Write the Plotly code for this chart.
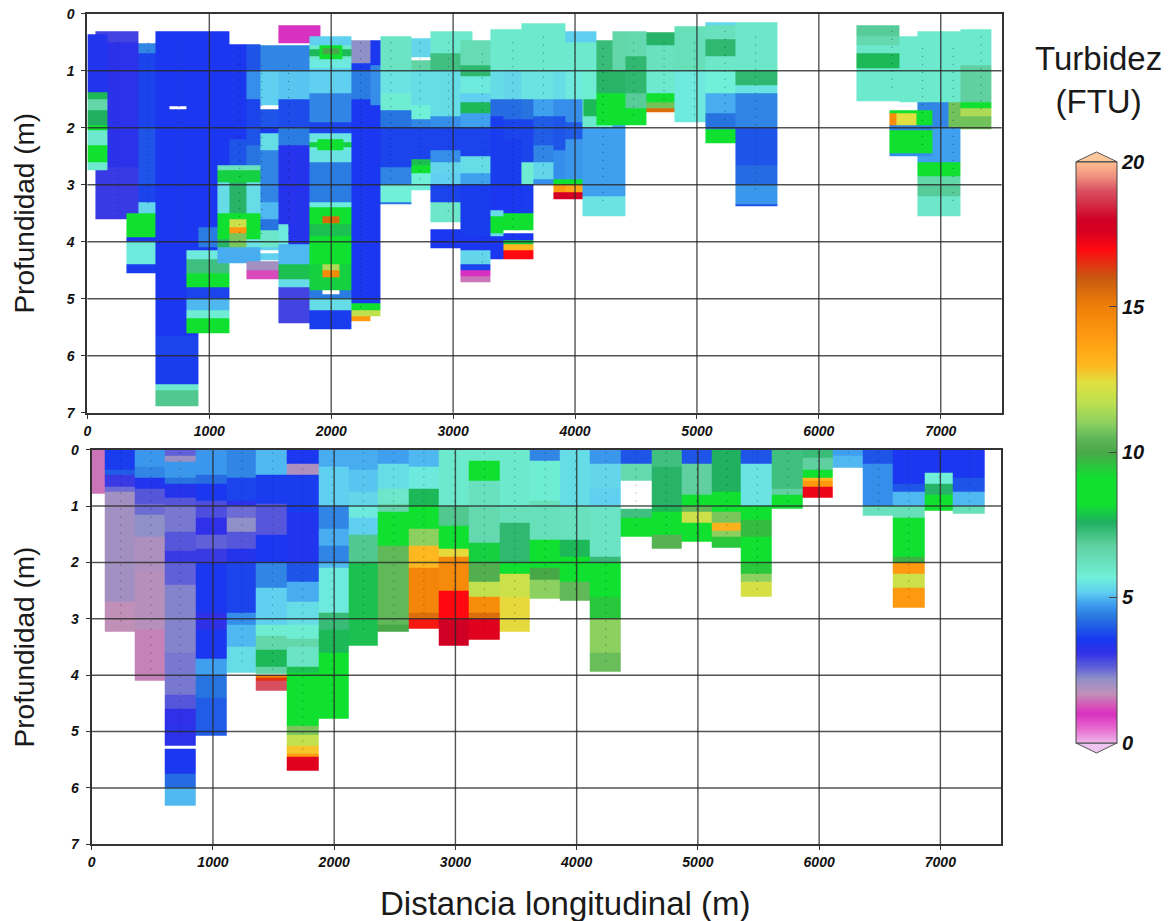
import numpy as np
import plotly.graph_objects as go

W = None  # hole in the section (no data)

color_stops = [
    (0, "#ECB8EC"), (0.45, "#E870D0"), (1.0, "#D830C0"), (1.25, "#D850B8"), (1.7, "#C090B8"),
    (2.2, "#9090C8"), (2.6, "#6060D8"), (3.1, "#3030E8"), (3.55, "#1838F0"), (4.35, "#2878E0"),
    (4.8, "#40A0F0"), (5.2, "#60D0F0"), (5.7, "#70F0D8"), (6.8, "#60D0A0"), (7.6, "#20B060"),
    (8.2, "#10E030"), (9.1, "#10E030"), (10, "#48A848"), (10.5, "#60B858"), (11, "#8CD060"),
    (11.7, "#BCE050"), (12.4, "#E0E040"), (13, "#FFB820"), (14, "#FF9A10"), (15, "#F08008"),
    (16, "#C85A10"), (17, "#FF0810"), (17.6, "#D80020"), (18, "#D00025"), (19, "#D85060"),
    (19.5, "#F09080"), (20, "#FFC090"),
]

x_tick_values = [0, 1000, 2000, 3000, 4000, 5000, 6000, 7000]
depth_tick_values = [0, 1, 2, 3, 4, 5, 6, 7]
scale_tick_values = [0, 5, 10, 15, 20]

# Each entry: x from, x to, depth edges, turbidity per depth band. Later entries overlay earlier.
top_sections = [
    (65, 418, [.31, .5, 2.7, 3.6], [2.9, 3.2, 3.0]),
    (0, 167, [.36, 1.37, 1.5, 1.7, 1.95, 2.05, 2.3, 2.6, 2.75], [3.4, 7.7, 6.6, 7.6, 8.7, 5.9, 8.5, 5.9]),
    (418, 555, [.52, .7, 2.0, 3.0, 3.3, 3.9], [4.5, 3.7, 3.9, 3.7, 3.5]),
    (320, 555, [3.5, 3.93, 4.0, 4.4, 4.55], [8.7, 3.5, 5.6, 3.6]),
    (418, 665, [3.3, 3.5], [5.3]),
    (555, 665, [3.5, 3.9, 4.4], [5.2, 4.8]),
    (665, 910, [.3, 5.65, 6.0, 6.5], [3.5, 3.7, 3.6]),
    (555, 665, [.3, 3.3, 4.4, 5.65, 6.0, 6.5], [3.5, 3.5, 3.5, 3.7, 3.6]),
    (555, 910, [6.5, 6.6, 6.88], [5.9, 7.0]),
    (673, 815, [1.62, 1.67], [W]),
    (910, 1165, [.3, 3.75, 4.1, 4.15], [3.5, 4.4, 3.5]),
    (815, 1165, [4.15, 4.3, 4.55, 4.8, 5.0, 5.2, 5.35, 5.6], [5.6, 7.2, 8.7, 3.7, 5.0, 5.8, 8.7]),
    (1165, 1307, [.54, 2.2, 2.65], [3.5, 3.9]),
    (1307, 1417, [.54, 1.0, 1.5, 2.0, 2.3, 2.65], [3.9, 4.6, 3.7, 3.9, 4.3]),
    (1070, 1417, [2.65, 2.75, 2.95, 3.5, 4.1, 4.38], [6.2, 8.0, 5.4, 5.5, 4.9]),
    (1165, 1307, [2.95, 3.5, 3.6, 3.75, 3.85, 4.1], [7.5, 9.0, 12.0, 14.0, 10.8]),
    (1070, 1165, [3.5, 3.65, 3.95, 4.1], [8.5, 8.7, 7.5]),
    (1307, 1417, [3.5, 3.95], [8.7]),
    (1417, 1567, [.55, 1.0, 1.6, 1.68, 2.0, 2.1, 2.4, 3.3, 3.6, 3.8, 4.1, 4.15, 4.2, 4.33],
     [4.5, 5.2, W, 3.9, 3.6, 5.4, 4.5, 5.0, 4.3, 6.0, 5.2, W, 5.2]),
    (1307, 1567, [4.35, 4.5, 4.66], [2.0, 1.2]),
    (1567, 1822, [.2, .52, .55, 1.0, 1.5, 2.0, 2.3, 3.9, 4.05, 4.4, 4.65, 4.8, 5.43],
     [1.0, W, 4.5, 5.1, 3.8, 4.4, 3.3, 3.3, 5.0, 7.8, 5.4, 2.9]),
    (1567, 1650, [3.7, 4.05], [5.6]),
    (1822, 1915, [.2, .4], [1.0]),
    (1822, 2169, [.4, .55, .8, .95, 1.4, 1.9, 2.1, 2.2, 2.4, 2.6, 3.3, 3.4, 3.7, 3.9, 4.2, 4.4, 4.85, 5.0, 5.2, 5.53],
     [5.2, 8.4, 5.6, 5.2, 4.5, 3.7, 5.5, 8.4, 5.5, 4.4, 5.6, 8.3, 7.8, 8.5, 8.4, 8.0, 4.4, 5.4, 3.6]),
    (1822, 1900, [.55, .62, .74, .8], [5.9, 7.7, 5.9]),
    (2090, 2169, [.55, .62, .74, .8], [5.9, 7.7, 5.9]),
    (1822, 1890, [2.2, 2.26, 2.34, 2.4], [5.6, 8.0, 5.6]),
    (2100, 2169, [2.2, 2.26, 2.34, 2.4], [5.6, 8.0, 5.6]),
    (1925, 2070, [.6, .72], [10]),
    (1925, 2070, [3.55, 3.68], [15.6]),
    (1925, 2070, [4.4, 4.5, 4.62], [11.5, 14.6]),
    (1925, 2070, [4.85, 4.92], [W]),
    (2169, 2320, [.46, .87, 1.0, 1.5, 5.08, 5.2, 5.3, 5.4], [2.2, 3.6, 4.4, 3.5, 8.4, 11.8, 14.0]),
    (2320, 2407, [.46, .9, 1.0, 1.6, 5.08, 5.2, 5.3], [3.5, 4.5, 4.6, 3.5, 8.4, 11.8]),
    (2407, 2661, [.4, 1.0, 1.4, 1.7, 2.0, 2.7, 3.0, 3.3, 3.35], [6.1, 5.5, 5.8, 4.3, 3.7, 4.5, 5.7, 4.3]),
    (2661, 2812, [.43, .76, .82, 1.0, 1.6, 1.85, 2.0, 2.55, 2.65, 2.8, 3.1],
     [5.3, W, 6.7, 5.4, 5.7, 4.5, 3.7, 7.8, 8.2, 5.7]),
    (2812, 3063, [.3, .7, 1.0, 1.8, 2.0, 2.4, 2.6, 2.8, 3.0, 3.3, 3.65, 3.78, 4.12],
     [5.9, 7.2, 5.4, 4.6, 3.7, 4.6, 5.3, 5.2, 3.7, 6.0, W, 3.5]),
    (3063, 3309, [.47, .9, 1.1, 1.4, 1.55, 1.75, 2.0, 2.5, 2.8, 3.0, 3.9, 4.15, 4.4, 4.5, 4.6, 4.72],
     [6.4, 7.4, 5.6, 5.2, 7.7, 4.8, 3.7, 5.4, 4.8, 3.6, 3.5, 5.3, 3.7, 1.0, 1.5]),
    (3063, 3159, [.3, .47], [5.9]),
    (3309, 3413, [.27, 1.0, 1.5, 1.8, 2.6, 3.0, 3.45, 3.9, 4.3], [5.9, 5.4, 4.2, 3.6, 3.6, 3.5, 5.4, 3.5]),
    (3309, 3413, [3.55, 3.85], [8.5]),
    (3413, 3564, [.27, 1.0, 1.5, 1.85, 2.2, 2.6, 3.0, 3.5, 3.8, 3.85, 3.97, 4.05, 4.15, 4.3],
     [5.9, 5.3, 4.2, 3.7, 3.6, 3.6, 3.5, 8.6, W, 3.5, 8.0, 13, 17]),
    (3564, 3660, [.17, 1.0, 1.5, 1.85, 2.6, 3.0, 3.5, 3.8, 3.85, 3.97, 4.05, 4.15, 4.3],
     [5.9, 5.5, 4.3, 3.7, 5.8, 3.6, 8.6, W, 3.5, 8.0, 13, 17]),
    (3660, 3822, [.17, 1.0, 1.5, 1.8, 2.3, 2.6, 2.9, 3.0], [5.9, 5.5, 4.8, 4.0, 4.5, 5.3, 4.6]),
    (3822, 3918, [.17, 1.0, 1.5, 1.8, 2.4, 2.9, 3.0, 3.13, 3.25], [5.9, 5.4, 4.6, 3.9, 4.6, 8.7, 14, 17.8]),
    (3918, 4060, [.3, .5, 1.0, 1.5, 1.9, 2.2, 2.9, 3.0, 3.13, 3.25], [5.2, 5.9, 5.6, 4.6, 4.0, 4.7, 8.7, 13.5, 17.8]),
    (4060, 4172, [.3, .5, 1.0, 1.5, 2.0, 3.2, 3.55], [5.2, 5.9, 5.8, 5.9, 4.8, 5.5]),
    (4069, 4172, [1.5, 1.8], [7.7]),
    (4172, 4309, [.47, 1.0, 1.4, 1.95, 2.0, 3.2, 3.55], [7.3, 7.5, 8.7, 5.7, 4.8, 5.5]),
    (4309, 4410, [.3, 1.0, 1.4, 1.95, 3.2, 3.55], [6.6, 7.5, 8.7, 4.8, 5.5]),
    (4410, 4588, [.3, .75, 1.4, 1.65, 1.95], [6.5, 7.4, 6.9, 8.7]),
    (4588, 4812, [.32, .55, 1.0, 1.4, 1.55, 1.65, 1.73], [7.5, 6.2, 5.9, 8.5, 10.7, 15.5]),
    (4812, 5067, [.22, 1.0, 1.9], [6.3, 5.6]),
    (5067, 5313, [.15, .2, .45, .75, 1.0, 1.4, 1.75, 2.03, 2.27], [5.3, 6.2, 7.4, 6.0, 5.7, 4.9, 4.3, 8.7]),
    (5313, 5660, [.15, 1.0, 1.25, 1.4, 2.0, 2.65, 3.0, 3.35, 3.37], [6.0, 7.4, 5.5, 4.5, 3.9, 4.2, 4.7, 3.9]),
    (6311, 6661, [.2, .4, .55, .7, .95, 1.53], [6.9, 6.5, 6.0, 7.7, 5.9]),
    (6661, 6809, [.4, 1.55], [5.9]),
    (6809, 7165, [.3, .8, 1.55, 2.0, 2.6, 2.85, 3.0, 3.2, 3.55], [5.9, 5.9, 4.5, 4.8, 8.4, 6.6, 6.9, 6.0]),
    (6575, 6930, [1.7, 1.75, 1.95, 2.05, 2.45, 2.5], [8.5, 8.7, 4.5, 8.7, 4.6]),
    (6575, 6640, [1.75, 1.95], [14.5]),
    (6640, 6800, [1.75, 1.95], [12.4]),
    (7063, 7165, [1.55, 2.0], [10.7]),
    (7165, 7419, [.27, .9, 1.55, 1.65, 1.8, 2.03], [5.9, 6.8, 8.5, 11.5, 10.7]),
]

bottom_sections = [
    (0, 110, [0, .78], [1.5]),
    (110, 357, [0, .35, .45, .65, .75, 2.7, 3.22], [3.6, 4.0, 3.0, 2.5, 2.0, 1.7]),
    (357, 605, [0, .3, .5, .7, .95, 1.15, 1.55, 2.15, 3.2, 4.1], [4.7, 4.5, 3.4, 2.7, 2.5, 2.2, 1.9, 1.8, 1.6]),
    (605, 860, [0, .1, .22, .5, .6, .85, 1.0, 1.45, 1.8, 2.0, 2.4, 3.6, 4.35, 4.6, 4.85, 5.25, 5.3, 5.75, 6.0, 6.32],
     [2.6, 2.1, 4.7, 4.3, 3.3, 2.7, 2.4, 2.7, 3.0, 2.6, 2.3, 2.4, 2.7, 3.1, 3.2, W, 3.5, 4.2, 5.0]),
    (860, 1113, [0, .45, .6, .9, 1.2, 1.5, 1.75, 2.0, 2.9, 3.2, 3.7, 4.0, 4.4, 5.08],
     [4.7, 4.2, 3.5, 2.8, 3.1, 2.6, 3.0, 3.5, 3.1, 3.5, 4.8, 4.3, 4.0]),
    (1113, 1352, [0, .5, .9, 1.0, 1.2, 1.45, 1.75, 2.0, 2.9, 3.1, 3.5, 3.95],
     [4.5, 3.7, 3.2, 2.5, 2.2, 2.7, 3.3, 3.7, 4.6, 5.0, 5.4]),
    (1352, 1607, [0, .45, .95, 1.5, 2.0, 2.45, 3.1, 3.3, 3.55, 3.85, 3.98, 4.0, 4.05, 4.1, 4.28],
     [5.0, 3.6, 2.7, 3.5, 4.5, 5.2, 5.8, 6.6, 7.7, 6.7, W, 15, 16.5, 19]),
    (1607, 1869, [0, .25, .45, 1.1, 2.0, 2.35, 2.7, 3.1, 3.35, 3.5, 3.85, 3.95, 4.9, 5.05, 5.25, 5.4, 5.45, 5.7],
     [3.5, 1.9, 3.6, 3.4, 3.9, 4.9, 5.4, 5.8, 6.6, 6.1, 7.8, 8.7, 10.8, 11.8, 12.8, 14, 17.5]),
    (1869, 2116, [0, .3, 1.0, 1.4, 1.7, 2.0, 2.1, 2.9, 3.2, 3.6, 4.0, 4.77],
     [4.9, 5.2, 4.5, 4.9, 4.5, 5.0, 5.6, 7.3, 7.7, 8.8, 8.5]),
    (2116, 2363, [0, .35, .75, 1.0, 1.2, 1.5, 2.0, 3.47], [4.9, 5.1, 5.3, 5.6, 5.2, 7.0, 7.8]),
    (2363, 2616, [0, .25, .7, .95, 1.1, 1.7, 3.1, 3.23], [4.8, 5.4, 6.0, 6.5, 8.7, 10.5, 10.0]),
    (2616, 2858, [0, .3, .7, 1.0, 1.4, 1.7, 2.1, 2.9, 3.0, 3.17], [5.0, 5.6, 7.7, 8.7, 11, 13, 14.8, 15.5, 16.8]),
    (2858, 3111, [0, 1.0, 1.35, 1.75, 1.9, 2.5, 3.0, 3.47], [5.9, 7.0, 8.7, 12.5, 14.6, 17, 18]),
    (3111, 3366, [0, .2, .55, 1.0, 1.65, 2.0, 2.35, 2.6, 2.9, 3.0, 3.37], [5.9, 8.5, 6.2, 6.5, 8.0, 10.2, 11.8, 14.5, 15.5, 17.5]),
    (3366, 3613, [0, 1.0, 1.3, 2.0, 2.2, 2.6, 3.23], [5.9, 6.3, 7.4, 8.5, 12, 12.5]),
    (3613, 3861, [0, .2, .9, 1.6, 2.1, 2.3, 2.65], [4.5, 5.8, 6.3, 8.7, 10, 11]),
    (3861, 4108, [0, 1.0, 1.6, 1.9, 2.35, 2.68], [5.4, 6.2, 7.7, 8.7, 10.5]),
    (4108, 4364, [0, .25, .7, 1.0, 1.9, 2.0, 2.6, 3.0, 3.6, 3.93], [4.7, 5.3, 5.2, 6.1, 7.3, 8.7, 9.5, 11, 10.6]),
    (4364, 4617, [0, .25, .55, 1.05, 1.2, 1.55], [3.9, 6.5, W, 7.2, 8.6]),
    (4617, 4869, [0, .3, 1.0, 1.1, 1.5, 1.75], [7.2, 7.5, 7.7, 8.7, 10.3]),
    (4869, 5111, [0, .25, .8, 1.0, 1.1, 1.3, 1.63], [3.9, 6.8, 8.6, 10.5, 12, 8.7]),
    (5111, 5353, [0, .75, 1.1, 1.3, 1.43, 1.55, 1.73], [7.6, 8.4, 10.8, 13.2, 11, 9.5]),
    (5353, 5611, [0, .25, 1.0, 1.25, 1.55, 2.0, 2.2, 2.35, 2.6], [3.9, 5.5, 8.3, 9.7, 8.7, 9.5, 11, 12.2]),
    (5611, 5861, [0, .7, .8, 1.05], [7.2, 6.8, 8.3]),
    (5861, 6114, [0, .15, .35, .5, .55, .65, .85], [7.3, 6.8, 8.3, 13, 14, 17.3]),
    (6114, 6356, [0, .1, .32], [4.8, 5.0]),
    (6356, 6609, [0, .25, .8, 1.0, 1.17], [3.9, 4.6, 4.6, 6.2]),
    (6609, 6870, [0, .6, .75, 1.0, 1.2, 1.9, 2.0, 2.2, 2.45, 2.8], [3.5, 3.9, 5.0, 6.3, 8.7, 9.8, 14, 12, 14]),
    (6870, 7104, [0, .4, .6, .8, 1.08], [3.5, 5.7, 7.5, 8.7]),
    (7104, 7365, [0, .5, .75, 1.0, 1.13], [3.5, 3.9, 5.0, 6.3]),
]

# Sampling stations, drawn as dotted profiles
top_station_x = [250, 500, 750, 1250, 1430, 1650, 2000, 2240, 2490, 2730, 2960, 3240, 3490, 3740, 4000, 4230, 4480, 4730, 4980, 5230, 5480, 6600, 6850, 7100, 7330]
top_station_top = [.5, .5, .5, .6, .9, .9, .5, .5, .5, .5, .5, .7, .5, .4, .4, .6, .5, .5, .5, .3, .4, .3, .6, .6, .4]
top_station_bottom = [3.5, 3.4, 4.0, 4.0, 4.1, 4.1, 5.2, 5.2, 3.0, 3.0, 3.5, 4.5, 4.0, 2.9, 3.0, 3.4, 1.8, 1.6, 1.8, 2.1, 3.2, 1.4, 2.4, 3.4, 1.8]
bottom_station_x = [240, 490, 730, 1000, 1240, 1490, 1740, 1990, 2240, 2490, 2740, 2990, 3240, 3490, 3740, 3990, 4240, 4490, 4740, 4990, 5240, 5490, 5740, 5990, 6240, 6490, 6740, 6990, 7240]
bottom_station_top = [.05] * 29
bottom_station_bottom = [3.1, 3.9, 5.1, 4.9, 3.8, 4.0, 5.4, 4.6, 3.3, 3.1, 3.0, 3.3, 3.2, 3.1, 2.6, 2.6, 3.8, 1.4, 1.6, 1.5, 1.6, 2.5, 1.0, .8, .2, 1.1, 2.7, 1.0, 1.1]


def build_grid(sections):
    xs = sorted({v for s in sections for v in s[:2]})
    ds = sorted({v for s in sections for v in s[2]})
    z = np.full((len(ds) - 1, len(xs) - 1), np.nan)
    xi = {v: i for i, v in enumerate(xs)}
    di = {v: i for i, v in enumerate(ds)}
    for x0, x1, edges, vals in sections:
        for k, v in enumerate(vals):
            z[di[edges[k]]:di[edges[k + 1]], xi[x0]:xi[x1]] = np.nan if v is None else v
    return xs, ds, z


fig = go.Figure()
for sections, xa, ya in [(top_sections, "x", "y"), (bottom_sections, "x2", "y2")]:
    xs, ds, z = build_grid(sections)
    fig.add_trace(go.Heatmap(x=xs, y=ds, z=z, xaxis=xa, yaxis=ya, coloraxis="coloraxis",
                             hoverongaps=False, zsmooth=False))

for sx, st, sb, xa, ya in [(top_station_x, top_station_top, top_station_bottom, "x", "y"),
                           (bottom_station_x, bottom_station_top, bottom_station_bottom, "x2", "y2")]:
    px, py = [], []
    for a, b, c in zip(sx, st, sb):
        px += [a, a, None]
        py += [b, c, None]
    fig.add_trace(go.Scatter(x=px, y=py, mode="lines", xaxis=xa, yaxis=ya, showlegend=False,
                             line=dict(color="rgba(0,0,0,0.45)", width=1, dash="1px 7px"), hoverinfo="skip"))

H, Wd = 921.0, 1169.0
def dom_x(a, b): return [a / Wd, b / Wd]
def dom_y(t, b): return [1 - b / H, 1 - t / H]

tick_font = dict(family="Liberation Sans, Arial, sans-serif", size=14, color="#111111", weight="bold", style="italic")
title_font = dict(family="Liberation Sans, Arial, sans-serif", size=28, color="#1a1a1a")
xlabel_font = dict(family="Liberation Sans, Arial, sans-serif", size=33, color="#1a1a1a")
ax_common = dict(showgrid=False, zeroline=False, showline=True, mirror=True, linecolor="#333333", linewidth=2,
                 ticks="outside", ticklen=4, tickcolor="#333333", tickfont=tick_font)

fig.update_layout(
    width=1169, height=921, margin=dict(l=0, r=0, t=0, b=0, autoexpand=False), paper_bgcolor="white", plot_bgcolor="white",
    showlegend=False, font=dict(family="Liberation Sans, Arial, sans-serif"),
    xaxis=dict(domain=dom_x(87.4, 1001.7), range=[0, 7500], tickvals=x_tick_values, anchor="y", **ax_common),
    yaxis=dict(domain=dom_y(13.7, 412.7), range=[7, 0], tickvals=depth_tick_values, anchor="x", ticklabelstandoff=4,
               title=dict(text="Profundidad (m)", font=title_font, standoff=23), **ax_common),
    xaxis2=dict(domain=dom_x(91.7, 1001), range=[0, 7500], tickvals=x_tick_values, anchor="y2", **ax_common),
    yaxis2=dict(domain=dom_y(449.7, 844.3), range=[7, 0], tickvals=depth_tick_values, anchor="x2", ticklabelstandoff=4,
                title=dict(text="Profundidad (m)", font=title_font, standoff=27), **ax_common),
    coloraxis=dict(
        cmin=0, cmax=20,
        colorscale=[[v / 20, c] for v, c in color_stops],
        colorbar=dict(
            x=1076 / Wd, xanchor="left", y=1 - 161.7 / H, yanchor="top", lenmode="fraction", len=(743 - 161.7) / H,
            thicknessmode="pixels", thickness=41, xpad=0, ypad=0, outlinewidth=1, outlinecolor="#444444",
            tickvals=scale_tick_values, ticks="inside", ticklen=8, tickcolor="#444444", tickwidth=1,
            tickfont=dict(family="Liberation Sans, Arial, sans-serif", size=20, color="#111111", weight="bold", style="italic"),
        ),
    ),
    annotations=[
        dict(text="Turbidez<br>(FTU)", x=1098 / Wd, y=1 - 80 / H, xref="paper", yref="paper",
             showarrow=False, font=dict(family="Liberation Sans, Arial, sans-serif", size=33, color="#1a1a1a"),
             align="center", xanchor="center", yanchor="middle"),
        dict(text="Distancia longitudinal (m)", x=565 / Wd, y=1 - 903 / H, xref="paper", yref="paper",
             showarrow=False, font=xlabel_font, xanchor="center", yanchor="middle"),
    ],
)

shapes = []
line = dict(color="rgba(40,40,40,0.8)", width=1.4)
for xa, ya in [("x", "y"), ("x2", "y2")]:
    for v in x_tick_values[1:]:
        shapes.append(dict(type="line", xref=xa, yref=f"{ya} domain", x0=v, x1=v, y0=0, y1=1, line=line))
    for v in depth_tick_values[1:-1]:
        shapes.append(dict(type="line", xref=f"{xa} domain", yref=ya, x0=0, x1=1, y0=v, y1=v, line=line))
# colour-bar end caps and left-hand tick marks
def P(px, py): return f"{px / Wd},{1 - py / H}"
shapes.append(dict(type="path", xref="paper", yref="paper", layer="above",
                   path=f"M {P(1076, 161.7)} L {P(1096.5, 152)} L {P(1117, 161.7)} Z",
                   fillcolor="#FFC89A", line=dict(color="#555555", width=1)))
shapes.append(dict(type="path", xref="paper", yref="paper", layer="above",
                   path=f"M {P(1076, 743)} L {P(1096.5, 753)} L {P(1117, 743)} Z",
                   fillcolor="#F0C4F0", line=dict(color="#555555", width=1)))
for v in scale_tick_values[1:-1]:
    py = 743 - v * 29.07
    shapes.append(dict(type="line", xref="paper", yref="paper", x0=1076 / Wd, x1=1084 / Wd, y0=1 - py / H, y1=1 - py / H,
                       line=dict(color="#444444", width=1)))
fig.update_layout(shapes=shapes)

fig.write_html("out.html", config={"displayModeBar": False},
               post_script="document.body.style.margin='0';document.body.style.overflow='hidden';")
